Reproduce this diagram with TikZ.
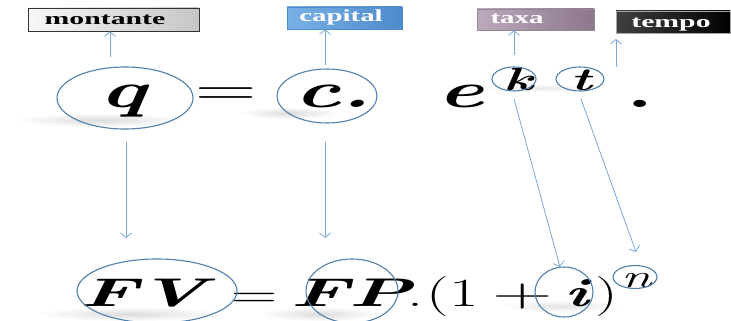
\documentclass[tikz,border=0pt]{standalone}
\usepackage{fontspec}
\newfontfamily\labfont{Liberation Serif}
\usetikzlibrary{shapes.geometric,arrows.meta}
\definecolor{arrowblue}{HTML}{7BA7D6}
\definecolor{ringblue}{HTML}{4F7FAA}
\definecolor{capL}{HTML}{79B0E6}
\definecolor{capR}{HTML}{4E8BCB}
\definecolor{taxL}{HTML}{BCA9BC}
\definecolor{taxR}{HTML}{8C778D}
\newcommand{\bi}[1]{{\bfseries\itshape #1}}
\begin{document}
\begin{tikzpicture}[x=1pt,y=-1pt,
  arr/.style={draw=arrowblue, line width=0.8pt, -{Straight Barb[length=4.5pt,width=11pt]}},
  ring/.style={draw=ringblue, line width=1.1pt, ellipse, inner sep=0pt},
  lab/.style={rectangle, inner sep=0pt, line width=0.6pt},
  labtext/.style={anchor=base, inner sep=0pt, font=\labfont\bfseries\fontsize{17}{19}\selectfont},
  big/.style={anchor=base, inner sep=0pt, font=\fontsize{50}{55}\selectfont},
  mid/.style={anchor=base, inner sep=0pt, font=\fontsize{32}{36}\selectfont},
  bot/.style={anchor=base, inner sep=0pt, font=\fontsize{40}{44}\selectfont},
  ]
\useasboundingbox (0,0) rectangle (731,321);

% soft reflections
\shade[inner color=gray!28, outer color=white] (100,120) ellipse [x radius=85, y radius=7];
\shade[inner color=gray!28, outer color=white] (290,113) ellipse [x radius=50, y radius=6];
\shade[inner color=gray!18, outer color=white] (540,88) ellipse [x radius=60, y radius=4];
\shade[inner color=gray!28, outer color=white] (130,314) ellipse [x radius=95, y radius=7];
\shade[inner color=gray!28, outer color=white] (320,314) ellipse [x radius=60, y radius=7];
\shade[inner color=gray!22, outer color=white] (560,306) ellipse [x radius=60, y radius=6];

% label boxes
\node[lab, draw=black!80, left color=gray!6, right color=gray!45,
      minimum width=171pt, minimum height=23pt] (mont) at (113.5,19.5) {};
\node[lab, draw=capR, left color=capL, right color=capR,
      minimum width=115pt, minimum height=22pt] (cap) at (344.5,18) {};
\node[lab, draw=taxL!80!black, left color=taxL, right color=taxR,
      minimum width=117pt, minimum height=21pt] (tax) at (535.5,19.5) {};
\node[lab, draw=gray!70, left color=black!75, right color=black,
      minimum width=114pt, minimum height=22pt] (temp) at (673,22) {};

\node[labtext, text=black] (montT) at (105,24.5) {\scalebox{1.75}[1]{montante}};
\node[labtext, text=white] (capT) at (341,22) {\scalebox{1.7}[1]{capital}};
\node[labtext, text=white] (taxT) at (517,23.5) {\scalebox{1.7}[1]{taxa}};
\node[labtext, text=white] (tempT) at (671,27.5) {\scalebox{1.75}[1]{tempo}};

% top formula
\node[big] (q) at (123,107) {\scalebox{1.75}[1]{\bi{q}}};
\node[big] (eq1) at (226,106) {\scalebox{1.7}[1]{=}};
\node[big] (c) at (333,107) {\scalebox{1.75}[1]{\bi{c.}}};
\node[big] (e) at (461,107) {\scalebox{1.75}[1]{\bi{e}}};
\node[mid] (k) at (518,90) {\scalebox{1.75}[1]{\bi{k}}};
\node[mid] (t) at (581,90) {\scalebox{1.75}[1]{\bi{t}}};
\node[big] (dot) at (640,107) {\scalebox{1.75}[1]{\bfseries .}};

% bottom formula
\node[bot] (FV) at (143,306) {\scalebox{2.0}[1]{\bi{FV}}};
\node[bot] (eq2) at (255,307) {\scalebox{1.6}[1]{=}};
\node[bot] (FP) at (351,306) {\scalebox{2.0}[1]{\bi{FP}}};
\node[bot] (pd) at (415,306) {\scalebox{1.6}[1]{.}};
\node[bot] (op) at (453,306) {\scalebox{1.6}[1]{(1}};
\node[bot] (plus) at (523,306) {\scalebox{2.1}[1]{+}};
\node[bot] (i) at (577,306) {\scalebox{1.7}[1]{\bi{i}}};
\node[bot] (cp) at (607,306) {\scalebox{1.6}[1]{)}};
\node[mid] (n) at (636,287) {\scalebox{1.7}[1]{\itshape n}};

% rings
\node[ring, minimum width=136pt, minimum height=62pt] (rq) at (125,98) {};
\node[ring, minimum width=100pt, minimum height=54pt] (rc) at (327,96) {};
\node[ring, minimum width=44pt, minimum height=24pt] (rk) at (514,79) {};
\node[ring, minimum width=48pt, minimum height=24pt] (rt) at (580,79) {};
\node[ring, minimum width=160pt, minimum height=64pt] (rFV) at (157,291) {};
\node[ring, minimum width=92pt, minimum height=64pt] (rFP) at (352,291) {};
\node[ring, minimum width=58pt, minimum height=50pt] (ri) at (564,292) {};
\node[ring, minimum width=44pt, minimum height=23pt] (rn) at (635,277) {};

% connector end points
\coordinate (a1) at (110,57);
\coordinate (a2) at (325,65);
\coordinate (a3) at (514,55);
\coordinate (a4) at (616,67);
\coordinate (a4e) at (616,39);
\coordinate (d1) at (126,142);
\coordinate (d1e) at (126,238);
\coordinate (d2) at (325,142);
\coordinate (d2e) at (325,238);
\coordinate (d3) at (514,99);
\coordinate (d3e) at (560,267);
\coordinate (d4) at (581,99);
\coordinate (d4e) at (636,252);

\draw[arr] (a1) -- (a1 |- mont.south);
\draw[arr] (a2) -- (a2 |- cap.south);
\draw[arr] (a3) -- (a3 |- tax.south);
\draw[arr] (a4) -- (a4e);
\draw[arr] (d1) -- (d1e);
\draw[arr] (d2) -- (d2e);
\draw[arr] (d3) -- (d3e);
\draw[arr] (d4) -- (d4e);
\end{tikzpicture}
\end{document}
